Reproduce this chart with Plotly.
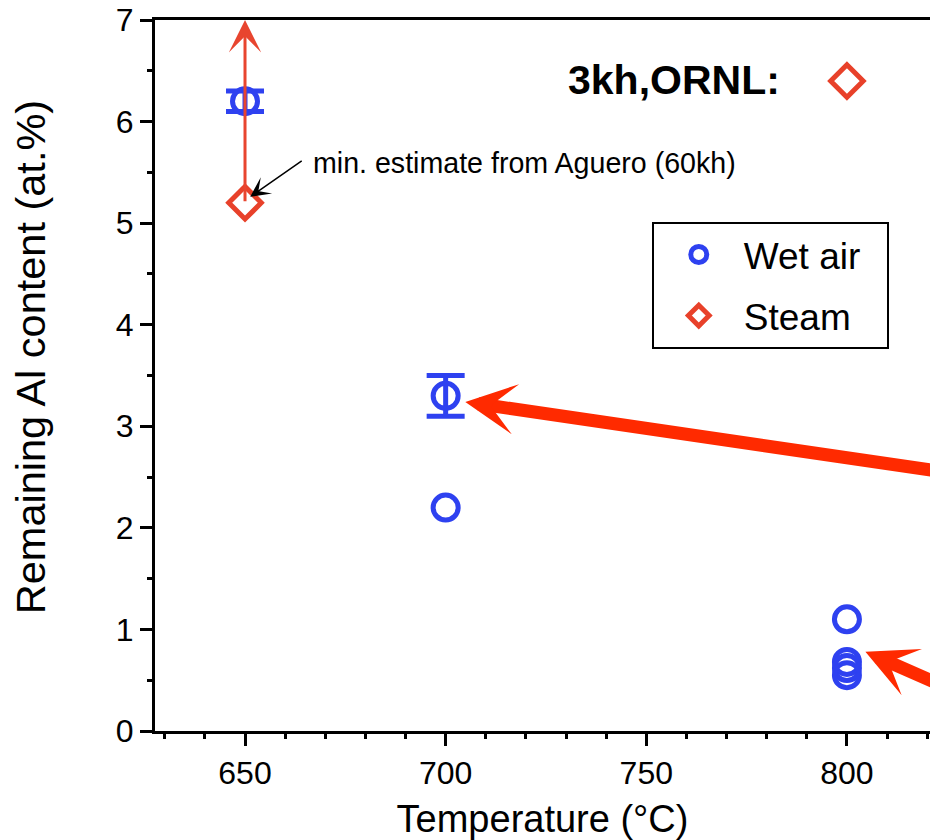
import plotly.graph_objects as go

# ---- data ----
# wet air points with error bars
wet_err_T = [650, 700]
wet_err_Al = [6.2, 3.3]
wet_err_val = [0.1, 0.2]
# wet air points without error bars
wet_T = [700, 800, 800, 800, 800]
wet_Al = [2.2, 1.1, 0.68, 0.62, 0.55]

steam_T = [650, 800]
steam_Al = [5.2, 6.4]

x_ticks = [650, 700, 750, 800]
y_ticks = [0, 1, 2, 3, 4, 5, 6, 7]

BLUE = "#2e41f0"
RED = "#e8412a"
ARROW_RED = "#ff2a00"
FONT = "Liberation Sans, Arial, Helvetica, sans-serif"
NB = "\u00a0"

fig = go.Figure()
fig.add_trace(go.Scatter(
    x=wet_err_T, y=wet_err_Al, mode="markers", name="Wet air" + NB * 2,
    marker=dict(symbol="circle-open", size=25, color=BLUE, line=dict(width=5, color=BLUE)),
    error_y=dict(type="data", array=wet_err_val, visible=True, color=BLUE, thickness=5, width=19),
    legendgroup="a", showlegend=False,
))
fig.add_trace(go.Scatter(
    x=wet_T, y=wet_Al, mode="markers", name="Wet air" + NB * 2,
    marker=dict(symbol="circle-open", size=25, color=BLUE, line=dict(width=5, color=BLUE)),
    legendgroup="a",
))
fig.add_trace(go.Scatter(
    x=steam_T, y=steam_Al, mode="markers", name="Steam",
    marker=dict(symbol="diamond-open", size=25, color=RED, line=dict(width=5, color=RED)),
    legendgroup="b",
))

annotations = [
    # vertical arrow from Aguero minimum estimate upward
    dict(x=650, y=7, ax=650, ay=5.2, xref="x", yref="y", axref="x", ayref="y",
         text="", showarrow=True, arrowhead=3, arrowsize=1.8, arrowwidth=3,
         arrowcolor="#e8452f", standoff=0),
    # black pointer arrow
    dict(x=651.3, y=5.26, ax=53, ay=-37, xref="x", yref="y",
         text="", showarrow=True, arrowhead=3, arrowsize=2.2, arrowwidth=1.5,
         arrowcolor="black", standoff=0),
    dict(x=666.5, y=5.59, xref="x", yref="y", xanchor="left", yanchor="middle",
         text="min. estimate from Aguero (60kh)", showarrow=False,
         font=dict(size=28.6, color="black", family=FONT)),
    dict(x=783.8, y=6.41, xref="x", yref="y", xanchor="right", yanchor="middle",
         text="<b>3kh,ORNL:</b>", showarrow=False,
         font=dict(size=41, color="black", family=FONT)),
    # big red arrows coming from outside
    dict(x=704.9, y=3.24, ax=845.0, ay=2.43, xref="x", yref="y", axref="x", ayref="y",
         text="", showarrow=True, arrowhead=3, arrowsize=0.65, arrowwidth=13,
         arrowcolor=ARROW_RED, standoff=0),
    dict(x=804.6, y=0.78, ax=845.6, ay=0.07, xref="x", yref="y", axref="x", ayref="y",
         text="", showarrow=True, arrowhead=3, arrowsize=0.65, arrowwidth=13,
         arrowcolor=ARROW_RED, standoff=0),
    # y axis title
    dict(x=-0.161, y=0.526, xref="paper", yref="paper", xanchor="center", yanchor="middle",
         text="Remaining Al content (at.%)", textangle=-90, showarrow=False,
         font=dict(size=41.5, color="black", family=FONT)),
]

fig.update_layout(
    width=930, height=840,
    margin=dict(l=155, r=0, t=20, b=109),
    paper_bgcolor="white", plot_bgcolor="white",
    font=dict(family=FONT, color="black", size=32),
    showlegend=True,
    legend=dict(
        x=0.641, y=0.716, xanchor="left", yanchor="top",
        bgcolor="white", bordercolor="black", borderwidth=2,
        font=dict(size=37, family=FONT),
        traceorder="grouped", tracegroupgap=10, itemwidth=80,
    ),
    annotations=annotations,
)

fig.update_xaxes(
    range=[627.57, 820.7], tickvals=x_ticks, ticks="outside", ticklen=12, tickwidth=2.5,
    tickcolor="black", showline=True, linewidth=3, linecolor="black", mirror=True,
    showgrid=False, zeroline=False, tickfont=dict(size=32),
    minor=dict(dtick=10, tick0=0, ticks="outside", ticklen=5, tickwidth=2.5, tickcolor="black", showgrid=False),
    title=dict(text="Temperature (°C)", font=dict(size=38), standoff=20),
    automargin=False,
)
fig.update_yaxes(
    range=[0, 7], tickvals=y_ticks, ticks="outside", ticklen=12, tickwidth=2.5,
    tickcolor="black", showline=True, linewidth=3, linecolor="black", mirror=False,
    showgrid=False, zeroline=False, tickfont=dict(size=32),
    minor=dict(dtick=0.5, tick0=0, ticks="outside", ticklen=5, tickwidth=2.5, tickcolor="black", showgrid=False),
    automargin=False,
)

fig.write_html("out.html")
